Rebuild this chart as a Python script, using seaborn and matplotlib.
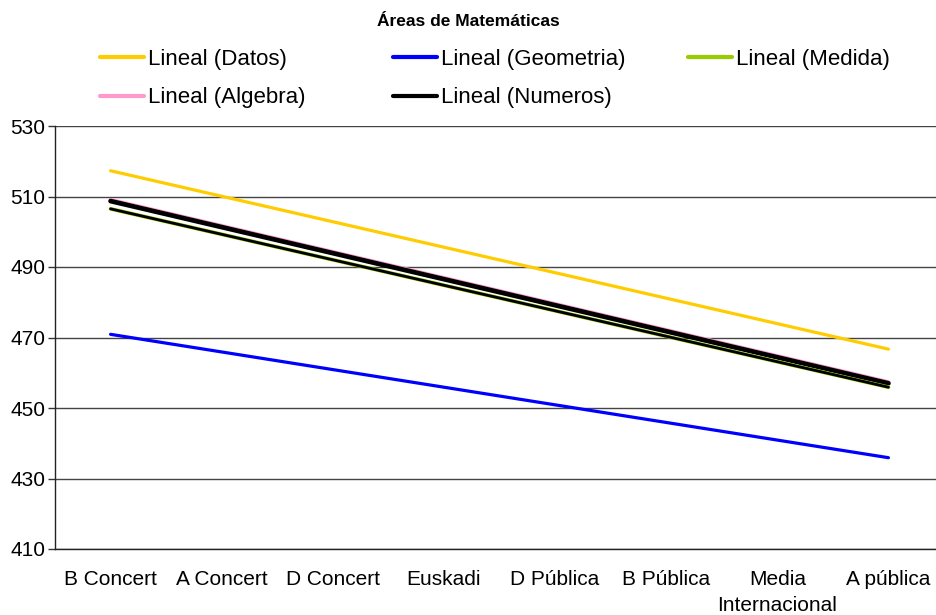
import matplotlib
matplotlib.use("Agg")
import matplotlib.pyplot as plt
import seaborn as sns
import pandas as pd
from matplotlib.lines import Line2D
import matplotlib.patheffects as pe

categories = ["B Concert", "A Concert", "D Concert", "Euskadi", "D Pública",
              "B Pública", "Media\nInternacional", "A pública"]
series_names = ["Lineal (Datos)", "Lineal (Geometria)", "Lineal (Medida)",
                "Lineal (Algebra)", "Lineal (Numeros)"]
# trend line values at first and last category
start_values = [517.3, 470.9, 506.5, 509.1, 508.7]
end_values = [466.7, 435.9, 455.9, 457.4, 457.0]
colors = ["#FFCC00", "#0000FF", "#99CC00", "#FF99CC", "#000000"]
yticks = [410, 430, 450, 470, 490, 510, 530]

rows = []
for name, s, e in zip(series_names, start_values, end_values):
    rows.append({"serie": name, "x": 0, "valor": s})
    rows.append({"serie": name, "x": len(categories) - 1, "valor": e})
df = pd.DataFrame(rows)

sns.set_style("white")
plt.rcParams["font.family"] = ["Liberation Sans", "DejaVu Sans"]
plt.rcParams["text.color"] = "black"
plt.rcParams["xtick.color"] = "black"
plt.rcParams["ytick.color"] = "black"

fig = plt.figure(figsize=(9.36, 6.15), dpi=100)
ax = fig.add_axes([55 / 936, 1 - 549 / 615, (944 - 55) / 936, (549 - 126) / 615])

draw_order = ["Lineal (Datos)", "Lineal (Geometria)", "Lineal (Algebra)",
              "Lineal (Numeros)", "Lineal (Medida)"]
for name in draw_order:
    i = series_names.index(name)
    sub = df[df["serie"] == name]
    if name == "Lineal (Medida)":
        sns.lineplot(data=sub, x="x", y="valor", ax=ax, color="#000000",
                     linewidth=2.0, legend=False,
                     path_effects=[pe.Stroke(linewidth=2.7, foreground=colors[i]), pe.Normal()])
    elif name == "Lineal (Numeros)":
        sns.lineplot(data=sub, x="x", y="valor", ax=ax, color=colors[i],
                     linewidth=3.4, legend=False)
    elif name == "Lineal (Algebra)":
        sns.lineplot(data=sub, x="x", y="valor", ax=ax, color=colors[i],
                     linewidth=2.6, legend=False)
    else:
        sns.lineplot(data=sub, x="x", y="valor", ax=ax, color=colors[i],
                     linewidth=2.3, legend=False)

ax.set_xlim(-0.5, len(categories) - 0.5)
ax.set_ylim(410, 530)
ax.set_yticks(yticks)
ax.set_yticklabels([str(v) for v in yticks], fontsize=15)
ax.set_xticks(range(len(categories)))
ax.set_xticklabels(categories, fontsize=15, linespacing=1.45)
ax.set_xticks([k + 0.5 for k in range(len(categories) - 1)], minor=True)
ax.tick_params(axis="x", which="major", length=0, pad=15)
ax.tick_params(axis="x", which="minor", length=6, width=1, color="#333333", direction="out")
ax.tick_params(axis="y", which="major", length=5, width=1, color="#333333", direction="out", pad=2, left=True)
ax.set_xlabel("")
ax.set_ylabel("")
ax.grid(axis="y", color="#444444", linewidth=1)
ax.set_axisbelow(True)
for side in ["top", "right"]:
    ax.spines[side].set_visible(False)
ax.spines["left"].set_color("#222222")
ax.spines["bottom"].set_color("#222222")
ax.spines["left"].set_linewidth(1)
ax.spines["bottom"].set_linewidth(1)

fig.text(468 / 936, 1 - 21 / 615, "Áreas de Matemáticas", ha="center", va="center",
         fontsize=12.5, fontweight="bold", color="black")

# legend laid out in three columns, row by row as in the original
handles = [Line2D([0], [0], color=c, linewidth=3) for c in colors]
column_groups = [[0, 3], [1, 4], [2]]
column_x = [100, 393, 688]
for grp, xpix in zip(column_groups, column_x):
    fig.legend([handles[k] for k in grp], [series_names[k] for k in grp],
               loc="upper left", ncol=1, frameon=False,
               bbox_to_anchor=(xpix / 936, 1 - 49 / 615), fontsize=16,
               handlelength=2.0, handletextpad=0.15, borderpad=0,
               borderaxespad=0, labelspacing=0.78, labelcolor="black")

fig.savefig("out.png", dpi=100)
